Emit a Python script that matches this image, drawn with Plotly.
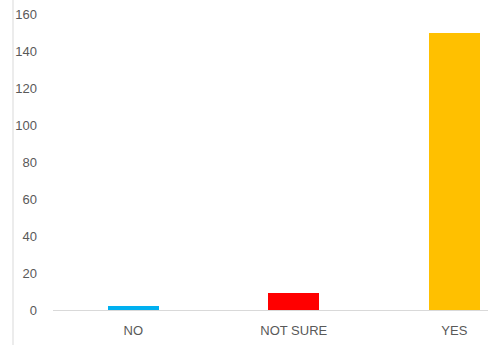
import plotly.graph_objects as go

categories = ["NO", "NOT SURE", "YES"]
counts = [2, 9, 150]
colors = ["#00b0f0", "#ff0000", "#ffc000"]
y_ticks = [0, 20, 40, 60, 80, 100, 120, 140, 160]

W, H = 488, 345
L, R, T, B = 53, 0, 14, 35

fig = go.Figure(
    go.Bar(
        x=categories,
        y=counts,
        marker=dict(color=colors, line=dict(width=0)),
        width=0.32,
    )
)

font = dict(family="Liberation Sans Narrow, Arial Narrow, Liberation Sans, sans-serif",
            size=13, color="#595959")

fig.update_layout(
    width=W,
    height=H,
    margin=dict(l=L, r=R, t=T, b=B, pad=0),
    paper_bgcolor="white",
    plot_bgcolor="white",
    showlegend=False,
    font=font,
    bargap=0,
    xaxis=dict(
        range=[-0.5, 2.21],
        showgrid=False,
        showline=True,
        linecolor="#d9d9d9",
        linewidth=1,
        ticks="",
        tickfont=font,
        ticklabelstandoff=8,
        zeroline=False,
    ),
    yaxis=dict(
        range=[0, 160],
        tickvals=y_ticks,
        showgrid=False,
        showline=False,
        zeroline=False,
        ticks="",
        tickfont=font,
        ticklabelstandoff=15,
    ),
)

# thin frame edge on the far left
fig.add_shape(type="line", xref="paper", yref="paper",
              x0=-40 / (W - L - R), x1=-40 / (W - L - R), y0=-0.2, y1=1.1,
              line=dict(color="#d9d9d9", width=1))

fig.write_html("out.html")
